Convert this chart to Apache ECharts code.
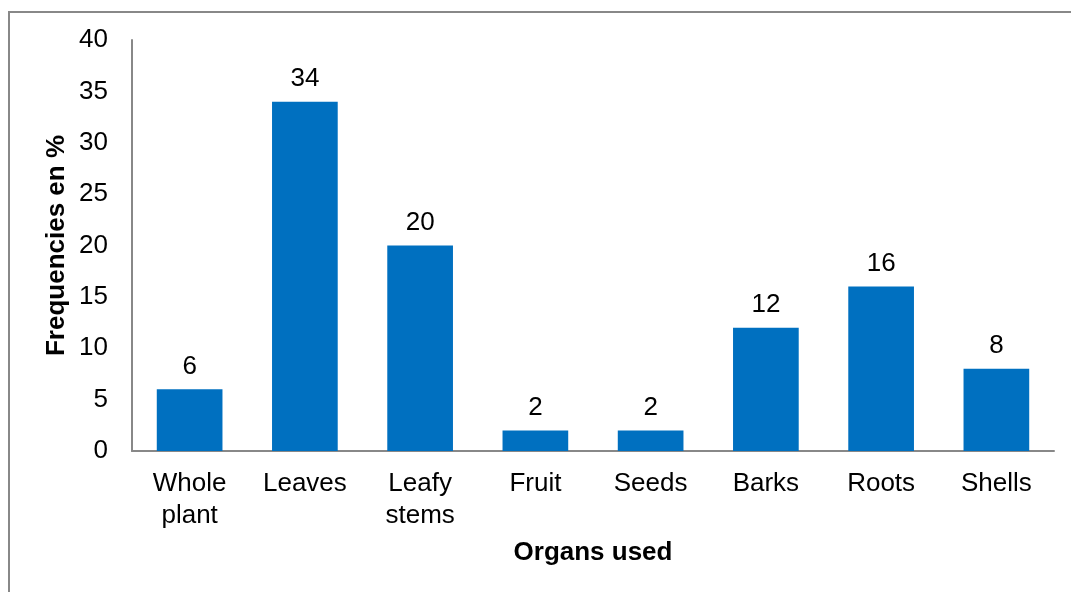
<!DOCTYPE html>
<html>
<head>
<meta charset="utf-8">
<script src="https://cdn.jsdelivr.net/npm/echarts@6/dist/echarts.min.js"></script>
<style>
  html, body { margin: 0; padding: 0; background: #fff; }
  .frame {
    position: absolute;
    left: 8px;
    top: 11px;
    width: 1063px;
    height: 581px;
    border-left: 2px solid #888;
    border-top: 2px solid #888;
    box-sizing: border-box;
  }
  #chart { position: absolute; left: 0; top: 0; width: 1071px; height: 592px; }
</style>
</head>
<body>
<div class="frame"></div>
<div id="chart"></div>
<script>
// organs and their frequencies (%)
const organs = ['Whole\nplant', 'Leaves', 'Leafy\nstems', 'Fruit', 'Seeds', 'Barks', 'Roots', 'Shells']
const frequencies = [6, 34, 20, 2, 2, 12, 16, 8]

const chart = echarts.init(document.getElementById('chart'))
const font = 'Liberation Sans, Arial, sans-serif'

chart.setOption({
  animation: false,
  grid: { left: 132, right: 17, top: 40, bottom: 141 },
  xAxis: {
    type: 'category',
    data: organs,
    name: 'Organs used',
    nameLocation: 'middle',
    nameGap: 89,
    nameMoveOverlap: false,
    nameTextStyle: { fontFamily: font, fontSize: 26, fontWeight: 'bold', color: '#000' },
    axisLine: { lineStyle: { color: '#888', width: 2 } },
    axisTick: { show: false },
    axisLabel: { fontFamily: font, fontSize: 26, color: '#000', margin: 17, lineHeight: 32, interval: 0 }
  },
  yAxis: {
    type: 'value',
    min: 0,
    max: 40,
    interval: 5,
    name: 'Frequencies en %',
    nameLocation: 'middle',
    nameGap: 62,
    nameMoveOverlap: false,
    nameTextStyle: { fontFamily: font, fontSize: 26, fontWeight: 'bold', color: '#000' },
    axisLine: { show: true, lineStyle: { color: '#888', width: 2 } },
    axisTick: { show: false },
    splitLine: { show: false },
    axisLabel: { fontFamily: font, fontSize: 26, color: '#000', margin: 24 }
  },
  series: [
    {
      type: 'bar',
      data: frequencies,
      barWidth: '57%',
      itemStyle: { color: '#0070C0' },
      label: {
        show: true,
        position: 'top',
        distance: 10,
        fontFamily: font,
        fontSize: 26,
        color: '#000'
      }
    }
  ]
})
</script>
</body>
</html>
